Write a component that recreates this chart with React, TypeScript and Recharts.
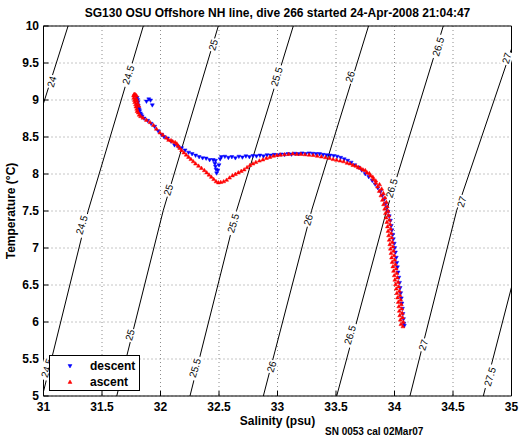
import React from "react";
import {
  ScatterChart, Scatter, XAxis, YAxis, CartesianGrid, ReferenceDot, Legend,
} from "recharts";

const FONT = "'Liberation Sans', Arial, Helvetica, sans-serif";

const SAL_TICKS = [31, 31.5, 32, 32.5, 33, 33.5, 34, 34.5, 35];
const TEMP_TICKS = [5, 5.5, 6, 6.5, 7, 7.5, 8, 8.5, 9, 9.5, 10];

// sigma-theta contours, [salinity, temperature]
const sig24 = [[31.0, 8.955], [31.21, 10]];
const sig245 = [[31.0, 5.06], [31.383, 7.51], [31.853, 10]];
const sig25 = [[31.626, 5], [32.024, 7.51], [32.494, 10]];
const sig255 = [[32.252, 5], [32.651, 7.51], [33.135, 10]];
const sig26 = [[32.879, 5], [33.292, 7.51], [33.778, 10]];
const sig265 = [[33.506, 5], [33.933, 7.51], [34.417, 10]];
const sig27 = [[34.132, 5], [34.532, 7.51], [35.0, 9.69]];
const sig275 = [[34.759, 5], [35.0, 6.47]];
const CONTOURS = [sig24, sig245, sig25, sig255, sig26, sig265, sig27, sig275];

// contour label text and where it sits
const CLABELS: [string, number, number][] = [
  ["24", 31.07, 9.247], ["24.5", 31.725, 9.338], ["25", 32.451, 9.743],
  ["25.5", 32.993, 9.315], ["26", 33.62, 9.315], ["26.5", 34.374, 9.72],
  ["27", 34.959, 9.564], ["24.5", 31.326, 7.311], ["25", 32.067, 7.784],
  ["25", 31.739, 5.824], ["25.5", 32.295, 5.378], ["25.5", 32.622, 7.334],
  ["26", 33.263, 7.378], ["26", 32.95, 5.396], ["26.5", 33.976, 7.807],
  ["26.5", 33.62, 5.824], ["27", 34.574, 7.626], ["27", 34.246, 5.689],
  ["27.5", 34.816, 5.261], ["24.5", 31.03, 5.378],
];

// dive profile, [salinity, temperature]
const descent = [
  [31.800, 9.03], [31.805, 9.00], [31.808, 8.97], [31.803, 8.94], [31.810, 8.92],
  [31.812, 8.89], [31.818, 8.87], [31.822, 8.85], [31.828, 8.82], [31.835, 8.80],
  [31.843, 8.78], [31.88, 8.98], [31.90, 9.01], [31.915, 8.995], [31.93, 8.93],
  [31.86, 8.75], [31.89, 8.72], [31.92, 8.68], [31.95, 8.64], [31.98, 8.58],
  [32.01, 8.53], [32.03, 8.50], [32.06, 8.48], [32.09, 8.44], [32.12, 8.39],
  [32.15, 8.37], [32.18, 8.35], [32.21, 8.32], [32.24, 8.29], [32.27, 8.27],
  [32.30, 8.25], [32.33, 8.23], [32.36, 8.215], [32.39, 8.21], [32.42, 8.19],
  [32.45, 8.19], [32.47, 8.18], [32.465, 8.14], [32.47, 8.10], [32.475, 8.06],
  [32.48, 8.01], [32.49, 8.05], [32.50, 8.12], [32.51, 8.20], [32.52, 8.23],
  [32.55, 8.235], [32.58, 8.22], [32.61, 8.23], [32.64, 8.215], [32.67, 8.235],
  [32.70, 8.225], [32.73, 8.24], [32.76, 8.23], [32.79, 8.245], [32.82, 8.24],
  [32.85, 8.25], [32.88, 8.24], [32.91, 8.255], [32.94, 8.25], [32.97, 8.26],
  [33.00, 8.255], [33.03, 8.265], [33.06, 8.26], [33.09, 8.27], [33.12, 8.265],
  [33.15, 8.275], [33.18, 8.27], [33.21, 8.28], [33.24, 8.27], [33.27, 8.28],
  [33.30, 8.275], [33.33, 8.27], [33.36, 8.27], [33.39, 8.26], [33.42, 8.255],
  [33.45, 8.25], [33.48, 8.245], [33.51, 8.235], [33.54, 8.22], [33.57, 8.20],
  [33.60, 8.18], [33.63, 8.155], [33.66, 8.12], [33.69, 8.09], [33.72, 8.05],
  [33.75, 8.00], [33.78, 7.96], [33.81, 7.91], [33.835, 7.86], [33.858, 7.81],
  [33.880, 7.76], [33.897, 7.71], [33.913, 7.66], [33.925, 7.60], [33.935, 7.55],
  [33.945, 7.49], [33.955, 7.43], [33.965, 7.37], [33.972, 7.30], [33.978, 7.24],
  [33.985, 7.18], [33.990, 7.12], [33.998, 7.06], [34.002, 7.00], [34.008, 6.94],
  [34.015, 6.87], [34.020, 6.80], [34.025, 6.74], [34.030, 6.67], [34.037, 6.60],
  [34.043, 6.53], [34.048, 6.46], [34.053, 6.39], [34.058, 6.32], [34.063, 6.25],
  [34.068, 6.18], [34.072, 6.11], [34.077, 6.04], [34.080, 5.98], [34.084, 5.95],
];

const ascent = [
  [34.072, 5.94], [34.055, 5.97], [34.075, 6.00], [34.050, 6.03], [34.070, 6.06],
  [34.045, 6.09], [34.066, 6.12], [34.041, 6.15], [34.062, 6.18], [34.037, 6.21],
  [34.058, 6.24], [34.032, 6.27], [34.053, 6.30], [34.026, 6.33], [34.047, 6.36],
  [34.020, 6.39], [34.042, 6.42], [34.015, 6.45], [34.036, 6.48], [34.009, 6.51],
  [34.031, 6.54], [34.003, 6.57], [34.025, 6.60], [33.998, 6.63], [34.020, 6.66],
  [33.992, 6.69], [34.014, 6.72], [33.986, 6.75], [34.008, 6.78], [33.980, 6.81],
  [34.002, 6.84], [33.975, 6.87], [33.997, 6.90], [33.970, 6.93], [33.992, 6.96],
  [33.965, 6.99], [33.987, 7.02], [33.960, 7.05], [33.982, 7.08], [33.955, 7.11],
  [33.977, 7.14], [33.950, 7.17], [33.972, 7.20], [33.945, 7.23], [33.967, 7.26],
  [33.940, 7.29], [33.962, 7.32], [33.935, 7.35], [33.957, 7.38], [33.929, 7.41],
  [33.951, 7.44], [33.923, 7.47], [33.945, 7.50], [33.916, 7.53], [33.938, 7.56],
  [33.907, 7.59], [33.930, 7.62], [33.897, 7.65], [33.918, 7.68], [33.884, 7.71],
  [33.905, 7.74], [33.870, 7.77], [33.890, 7.80], [33.855, 7.83], [33.872, 7.86],
  [33.840, 7.88], [33.840, 7.91], [33.820, 7.93], [33.815, 7.96], [33.795, 7.98],
  [33.785, 8.01], [33.765, 8.02], [33.750, 8.05], [33.730, 8.06], [33.710, 8.08],
  [33.690, 8.09], [33.670, 8.11], [33.645, 8.12], [33.620, 8.14], [33.595, 8.15],
  [33.565, 8.17], [33.535, 8.18], [33.505, 8.19], [33.475, 8.20], [33.445, 8.215],
  [33.410, 8.225], [33.375, 8.235], [33.340, 8.245], [33.305, 8.255], [33.270, 8.26],
  [33.235, 8.265], [33.200, 8.27], [33.165, 8.27], [33.130, 8.275], [33.095, 8.27],
  [33.060, 8.265], [33.025, 8.26], [32.995, 8.255], [32.965, 8.245], [32.935, 8.23],
  [32.905, 8.215], [32.875, 8.195], [32.845, 8.18], [32.815, 8.16], [32.790, 8.14],
  [32.765, 8.12], [32.740, 8.09], [32.715, 8.06], [32.690, 8.04], [32.665, 8.02],
  [32.640, 8.00], [32.615, 7.98], [32.590, 7.95], [32.565, 7.92], [32.540, 7.90],
  [32.515, 7.89], [32.495, 7.885], [32.475, 7.90], [32.455, 7.93], [32.435, 7.96],
  [32.415, 7.99], [32.395, 8.02], [32.375, 8.05], [32.350, 8.08], [32.325, 8.11],
  [32.300, 8.14], [32.280, 8.17], [32.260, 8.20], [32.240, 8.23], [32.220, 8.26],
  [32.200, 8.29], [32.180, 8.32], [32.165, 8.35], [32.150, 8.38], [32.140, 8.41],
  [32.125, 8.43], [32.105, 8.44], [32.090, 8.455], [32.070, 8.46], [32.050, 8.49],
  [32.020, 8.53], [31.995, 8.56], [31.965, 8.61], [31.940, 8.66], [31.910, 8.70],
  [31.880, 8.73], [31.850, 8.76], [31.830, 8.78], [31.818, 8.80], [31.810, 8.83],
  [31.800, 8.85], [31.797, 8.88], [31.790, 8.91], [31.787, 8.94], [31.780, 8.97],
  [31.777, 9.00], [31.772, 9.03], [31.770, 9.06], [31.775, 9.08], [31.785, 9.075],
  [31.795, 9.06], [31.792, 9.02], [31.800, 8.99], [31.805, 8.95], [31.815, 8.92],
];

const toPts = (a: number[][]) => a.map(([s, t]) => ({ s, t }));

const TriDown = (p: any) => (
  <polygon
    points={`${p.cx - 2},${p.cy - 1.4} ${p.cx + 2},${p.cy - 1.4} ${p.cx},${p.cy + 2}`}
    fill="#0000ff" stroke="#0000ff" strokeWidth={0.5}
  />
);
const TriUp = (p: any) => (
  <polygon
    points={`${p.cx - 2},${p.cy + 1.4} ${p.cx + 2},${p.cy + 1.4} ${p.cx},${p.cy - 2}`}
    fill="#ff0000" stroke="#ff0000" strokeWidth={0.5}
  />
);

const ContourLabel = ({ text }: { text: string }) => (props: any) => {
  const w = text.length * 5.6 + 2;
  return (
    <g transform={`translate(${props.cx},${props.cy}) rotate(-73)`}>
      <rect x={-w / 2} y={-5.5} width={w} height={11} fill="#fff" />
      <text x={0} y={0} dy="0.35em" textAnchor="middle" fontSize={10} fontFamily={FONT} fill="#000">
        {text}
      </text>
    </g>
  );
};

const LegendBox = () => (
  <div style={{ width: 89, height: 34, border: "1px solid #000", background: "#fff", position: "relative", fontFamily: FONT }}>
    <svg width={89} height={34} style={{ position: "absolute", left: 0, top: 0 }}>
      <TriDown cx={20} cy={10} />
      <TriUp cx={20} cy={26} />
      <text x={40} y={10} dy="0.35em" fontSize={12} fontWeight="bold" fill="#000">descent</text>
      <text x={40} y={26} dy="0.35em" fontSize={12} fontWeight="bold" fill="#000">ascent</text>
    </svg>
  </div>
);

const tickStyle = { fontSize: 12, fontWeight: "bold", fill: "#000", fontFamily: FONT };

export default function App() {
  return (
    <div style={{ position: "absolute", left: 0, top: 0, width: 522, height: 442, background: "#fff", fontFamily: FONT }}>
      <div style={{ position: "absolute", left: 43.5, top: 6, width: 468, textAlign: "center", fontSize: 12, lineHeight: "14px", fontWeight: "bold" }}>
        SG130 OSU Offshore NH line, dive 266 started 24-Apr-2008 21:04:47
      </div>
      <ScatterChart width={522} height={442} margin={{ top: 0, right: 0, bottom: 0, left: 0 }}>
        <CartesianGrid stroke="#8c8c8c" strokeDasharray="1 3" />
        <XAxis
          dataKey="s" type="number" domain={[31, 35]} ticks={SAL_TICKS} allowDataOverflow
          height={46} tickSize={-5} tickMargin={11} tick={tickStyle}
          stroke="#000" tickLine={{ stroke: "#000" }}
          label={{ value: "Salinity (psu)", position: "insideBottom", offset: 17, style: { fontSize: 12, fontWeight: "bold", fill: "#000", fontFamily: FONT } }}
        />
        <XAxis xAxisId="top" orientation="top" type="number" domain={[31, 35]} ticks={SAL_TICKS} allowDataOverflow
          height={26} tickSize={-5} tick={false} stroke="#000" />
        <YAxis
          dataKey="t" type="number" domain={[5, 10]} ticks={TEMP_TICKS} allowDataOverflow
          width={43.5} tickSize={-5} tickMargin={9.5} tick={tickStyle}
          stroke="#000" tickLine={{ stroke: "#000" }}
          label={{ value: "Temperature (°C)", angle: -90, position: "insideLeft", offset: 11, style: { textAnchor: "middle", fontSize: 12, fontWeight: "bold", fill: "#000", fontFamily: FONT } }}
        />
        <YAxis yAxisId="right" orientation="right" type="number" domain={[5, 10]} ticks={TEMP_TICKS} allowDataOverflow
          width={10.5} tickSize={-5} tick={false} stroke="#000" />
        {CONTOURS.map((c, i) => (
          <Scatter key={"c" + i} data={toPts(c)} line={{ stroke: "#000", strokeWidth: 1 }}
            shape={() => <g />} legendType="none" isAnimationActive={false} />
        ))}
        {CLABELS.map(([txt, s, t], i) => (
          <ReferenceDot key={"l" + i} x={s} y={t} r={0} shape={ContourLabel({ text: txt })} />
        ))}
        <Scatter name="descent" data={toPts(descent)} shape={TriDown} isAnimationActive={false} />
        <Scatter name="ascent" data={toPts(ascent)} shape={TriUp} isAnimationActive={false} />
        <Legend layout="vertical" align="center" verticalAlign="middle" content={() => <LegendBox />}
          wrapperStyle={{ left: 49, top: 355, width: 91, height: 36 }} />
      </ScatterChart>
      <div style={{ position: "absolute", left: 325, top: 426, fontSize: 10, lineHeight: "12px", fontWeight: "bold" }}>
        SN 0053 cal 02Mar07
      </div>
    </div>
  );
}
